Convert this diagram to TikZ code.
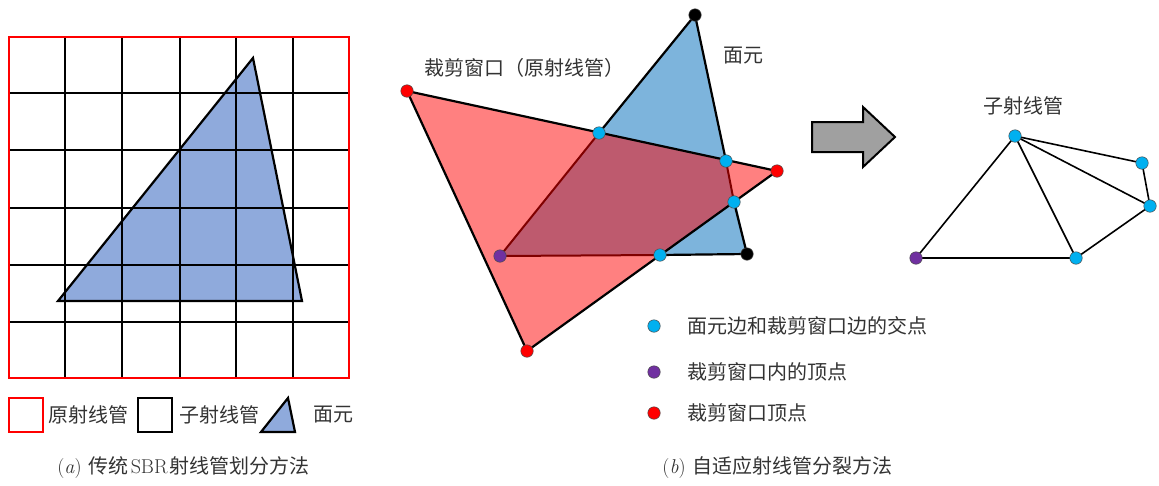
\documentclass[tikz,border=0pt]{standalone}
\usepackage{fontspec}
\newfontfamily\cjk{Noto Sans CJK SC}
\definecolor{tribl}{HTML}{8FAADC}
\definecolor{faceblue}{HTML}{7DB4DC}
\definecolor{clipred}{HTML}{FF8080}
\definecolor{overlapc}{HTML}{BE5A6E}
\definecolor{darkredc}{HTML}{800000}
\definecolor{cyandot}{HTML}{00B0F0}
\definecolor{purpledot}{HTML}{7030A0}
\definecolor{reddot}{HTML}{FF0000}
\definecolor{arrowgray}{HTML}{A0A0A0}
\definecolor{textgray}{HTML}{333333}
\begin{document}
\begin{tikzpicture}[x=1pt,y=-1pt,
  gridline/.style={black,line width=2pt},
  edge/.style={black,line width=2.2pt},
  redge/.style={darkredc,line width=2pt},
  subedge/.style={black,line width=1.6pt},
  dotc/.style={circle,inner sep=0pt,minimum size=12.5pt,draw=black!70,line width=0.5pt},
  cdot/.style={dotc,fill=cyandot},
  pdot/.style={dotc,fill=purpledot},
  rdot/.style={dotc,fill=reddot},
  kdot/.style={dotc,fill=black},
  lbl/.style={font=\cjk\fontsize{20}{24}\selectfont,text=textgray,inner sep=0pt},
  captext/.style={font=\fontsize{20}{24}\selectfont,text=textgray,inner sep=0pt}]
\useasboundingbox (0,0) rectangle (1159,485);

% ---------- (a) ----------
\coordinate (ta) at (253,58);
\coordinate (tb) at (58,301);
\coordinate (tc) at (302,301);
\fill[tribl] (ta) -- (tb) -- (tc) -- cycle;
\foreach \x in {65,122,180,236,293} \draw[gridline] (\x,37) -- (\x,378);
\foreach \y in {93,150,208,265,322} \draw[gridline] (9,\y) -- (349,\y);
\draw[edge,line join=miter] (ta) -- (tb) -- (tc) -- cycle;
\draw[red,line width=2pt] (9,37) rectangle (349,378);

% legend (a)
\node[draw=red,line width=1.5pt,minimum size=34pt,inner sep=0pt] (lr) at (26,415) {};
\node[lbl,anchor=west] (lrt) at (48,415) {原射线管};
\node[draw=black,line width=1.5pt,minimum size=34pt,inner sep=0pt] (lk) at (155,415) {};
\node[lbl,anchor=west] (lkt) at (179,415) {子射线管};
\coordinate (la) at (288,398);
\coordinate (lb) at (261,432);
\coordinate (lc) at (295,432);
\draw[edge,fill=tribl] (la) -- (lb) -- (lc) -- cycle;
\node[lbl,anchor=west] (ltt) at (313,415) {面元};

\node[captext] (capa) at (183.5,468) {(\textit{a})\hspace{7pt}{\cjk 传统}\hspace{2pt}SBR\hspace{2pt}{\cjk 射线管划分方法}};

% ---------- (b) middle ----------
\coordinate (ft) at (695,15);
\coordinate (fb) at (747,254);
\coordinate (pp) at (500,256);
\coordinate (r1) at (407,91);
\coordinate (r2) at (777,171);
\coordinate (r3) at (527,351);
\coordinate (c1) at (599,133);
\coordinate (c2) at (726,161);
\coordinate (c3) at (734,202);
\coordinate (c4) at (660,255);

\fill[faceblue] (ft) -- (fb) -- (pp) -- cycle;
\fill[clipred] (r1) -- (r2) -- (r3) -- cycle;
\fill[overlapc] (pp) -- (c1) -- (c2) -- (c3) -- (c4) -- cycle;
\draw[edge,line join=round] (r1) -- (r2) -- (r3) -- cycle;
\draw[edge] (c1) -- (ft) -- (c2);
\draw[edge] (c3) -- (fb) -- (c4);
\draw[redge] (c1) -- (pp) -- (c4);
\draw[redge] (c2) -- (c3);

\node[kdot] (nft) at (ft) {};
\node[kdot] (nfb) at (fb) {};
\node[rdot] (nr1) at (r1) {};
\node[rdot] (nr2) at (r2) {};
\node[rdot] (nr3) at (r3) {};
\node[cdot] (nc1) at (c1) {};
\node[cdot] (nc2) at (c2) {};
\node[cdot] (nc3) at (c3) {};
\node[cdot] (nc4) at (c4) {};
\node[pdot] (npp) at (pp) {};

\node[lbl] (tface) at (743,56) {面元};
\node[lbl] (tclip) at (524,68) {裁剪窗口（原射线管）};

% legend (b)
\node[cdot] (lg1) at (654,326) {};
\node[lbl,anchor=west] (lg1t) at (687,326) {面元边和裁剪窗口边的交点};
\node[pdot] (lg2) at (654,372) {};
\node[lbl,anchor=west] (lg2t) at (687,372) {裁剪窗口内的顶点};
\node[rdot] (lg3) at (654,413) {};
\node[lbl,anchor=west] (lg3t) at (687,413) {裁剪窗口顶点};

\node[captext] (capb) at (777.5,468) {(\textit{b})\hspace{7pt}{\cjk 自适应射线管分裂方法}};

% ---------- arrow ----------
\draw[black,line width=2pt,fill=arrowgray,line join=miter]
  (812,122) -- (863,122) -- (863,107) -- (895,137) -- (863,167) -- (863,152) -- (812,152) -- cycle;

% ---------- (b) right ----------
\coordinate (s1) at (1015,136);
\coordinate (s2) at (1142,163);
\coordinate (s3) at (1150,206);
\coordinate (s4) at (1076,258);
\coordinate (s5) at (916,258);
\draw[subedge] (s1) -- (s5) -- (s4) -- (s1);
\draw[subedge] (s1) -- (s2) -- (s3) -- (s4);
\draw[subedge] (s1) -- (s3);
\node[cdot] (ns1) at (s1) {};
\node[cdot] (ns2) at (s2) {};
\node[cdot] (ns3) at (s3) {};
\node[cdot] (ns4) at (s4) {};
\node[pdot] (ns5) at (s5) {};
\node[lbl] (tsub) at (1023,106) {子射线管};
\end{tikzpicture}
\end{document}
